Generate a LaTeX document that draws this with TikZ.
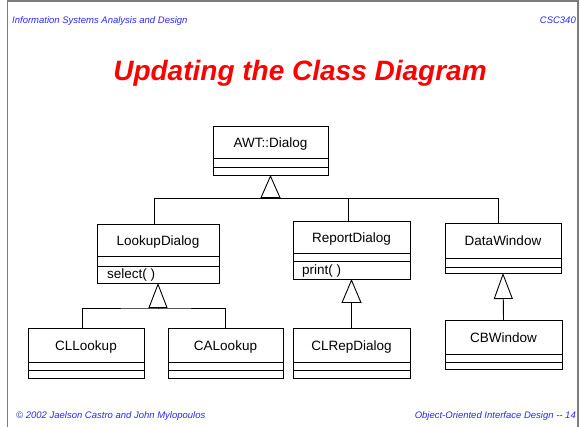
\documentclass[tikz,border=0pt]{standalone}
\usepackage{fontspec}
\setmainfont{Liberation Sans}
\usetikzlibrary{arrows.meta}

\definecolor{headblue}{RGB}{40,40,255}
\definecolor{titlered}{RGB}{255,0,0}
\definecolor{framegray}{RGB}{125,125,125}

\tikzset{
  cbox/.style={draw=black, line width=0.9pt, fill=white, inner sep=0pt, outer sep=0pt},
  cname/.style={font=\fontsize{13.5}{15}\selectfont, inner sep=0pt, anchor=base},
  cop/.style={font=\fontsize{13.5}{15}\selectfont, inner sep=0pt, anchor=base west},
  cline/.style={line width=0.9pt},
  link/.style={line width=0.9pt},
  gen/.style n args={2}{line width=0.9pt, -{Triangle[open, length=#1pt, width=#2pt]}},
  hdr/.style={font=\fontsize{9.5}{11}\selectfont\itshape, text=headblue, inner sep=0pt},
}

% UML class: id, left, top, right, name-bottom, separator, bottom, class name
\newcommand\umlclass[8]{%
  \node[cbox, minimum width={(#4-#2)*1pt}, minimum height={(#7-#3)*1pt}]
    (#1) at ({(#2+#4)/2},{(#3+#7)/2}) {};
  \node[cname] (#1-name) at ({(#2+#4)/2},{(#3+#5)/2+5.5}) {#8};
  \draw[cline] (#2,#5) -- (#4,#5);
  \draw[cline] (#2,#6) -- (#4,#6);
}

\begin{document}
\begin{tikzpicture}[x=1pt, y=-1pt]
\useasboundingbox (0,0) rectangle (581,427);
\fill[white] (0,0) rectangle (581,427);

% slide frame
\draw[framegray, line width=1.5pt] (7.5,427) -- (7.5,1) -- (578,1) -- (578,427);

% header, title and footer
\node[hdr, anchor=base west] (hleft) at (12,24) {Information Systems Analysis and Design};
\node[hdr, anchor=base east] (hright) at (576,24) {CSC340};
\node[font=\fontsize{28}{30}\selectfont\bfseries\itshape, text=titlered, inner sep=0pt, anchor=base]
  (title) at (300,81) {Updating the Class Diagram};
\node[hdr, anchor=base west] (fleft) at (16,419) {© 2002 Jaelson Castro and John Mylopoulos};
\node[hdr, anchor=base east] (fright) at (576,419) {Object-Oriented Interface Design {-}{-} 14};

% classes
\umlclass{awt}{213}{126}{328}{158}{167}{175}{AWT::Dialog}
\umlclass{lookup}{97}{224}{219}{256}{266}{283}{LookupDialog}
\umlclass{report}{293}{221}{410}{253}{261}{279}{ReportDialog}
\umlclass{dw}{445}{223}{561}{258}{267}{273}{DataWindow}
\umlclass{cll}{28}{328}{144}{362}{370}{378}{CLLookup}
\umlclass{cal}{168}{328}{283}{362}{370}{378}{CALookup}
\umlclass{clrep}{293}{328}{410}{362}{370}{378}{CLRepDialog}
\umlclass{cbw}{445}{320}{562}{354}{362}{369}{CBWindow}

% operations
\node[cop] (lookup-ops) at (107,279) {select( )};
\node[cop] (report-ops) at (302,275) {print( )};

% generalisation: AWT::Dialog
\coordinate (j1) at ([yshift=-23pt]awt.south);
\draw[gen={23}{20}] (j1) -- (awt.south);
\coordinate (lktop) at ([xshift=-4pt]lookup.north);
\coordinate (rptop) at ([xshift=-3.5pt]report.north);
\coordinate (dwtop) at ([xshift=-5pt]dw.north);
\draw[link] (lktop) |- (dwtop |- j1) -- (dwtop);
\draw[link] (rptop) -- (rptop |- j1);

% generalisation: LookupDialog
\coordinate (j2) at ([yshift=-25pt]lookup.south);
\draw[gen={25}{19}] (j2) -- (lookup.south);
\coordinate (clltop) at ([xshift=-4pt]cll.north);
\draw[link] (clltop) |- (j2) -| (cal.north);

% generalisation: ReportDialog and DataWindow
\draw[gen={24}{20}] (clrep.north) -- (report.south);
\draw[gen={26}{19}] (cbw.north) -- (dw.south);
\end{tikzpicture}
\end{document}
